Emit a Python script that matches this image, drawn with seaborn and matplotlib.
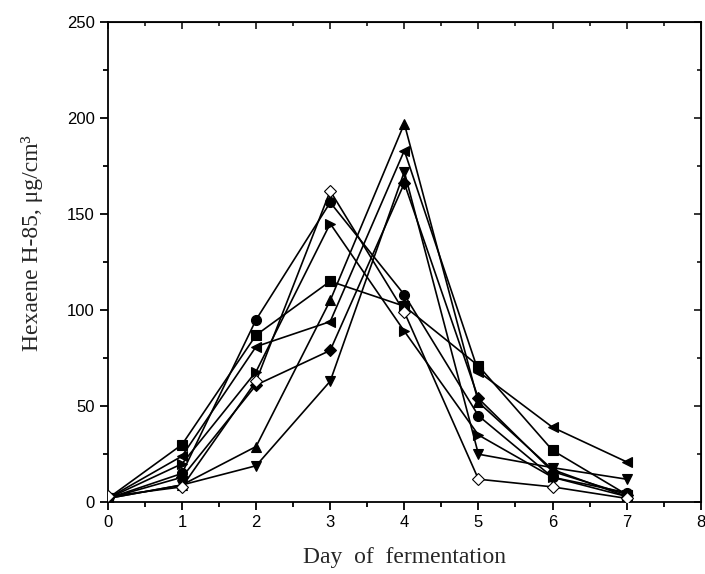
import pandas as pd
import matplotlib
matplotlib.use("Agg")
import matplotlib.pyplot as plt
from matplotlib.ticker import MultipleLocator
import seaborn as sns

# day of fermentation and hexaene content per sample
days = [0, 1, 2, 3, 4, 5, 6, 7]
s_square = [2, 30, 87, 115, 102, 71, 27, 4]
s_circle = [2, 15, 95, 156, 108, 45, 13, 5]
s_up = [2, 9, 29, 105, 197, 52, 17, 3]
s_down = [2, 9, 19, 63, 172, 25, 18, 12]
s_diamond = [2, 13, 61, 79, 166, 54, 16, 4]
s_left = [2, 24, 81, 94, 183, 68, 39, 21]
s_right = [2, 20, 68, 145, 89, 35, 13, 3]
s_open = [3, 8, 63, 162, 99, 12, 8, 2]

series = [
    ("s", s_square, "black"),
    ("o", s_circle, "black"),
    ("^", s_up, "black"),
    ("v", s_down, "black"),
    ("D", s_diamond, "black"),
    ("<", s_left, "black"),
    (">", s_right, "black"),
    ("D", s_open, "white"),
]

sns.set_style("ticks")
plt.rcParams['font.family'] = ['Liberation Sans', 'DejaVu Sans']

fig, ax = plt.subplots(figsize=(7.05, 5.74), dpi=100)
fig.subplots_adjust(left=0.153, right=0.994, top=0.962, bottom=0.125)

for mk, vals, fc in series:
    df = pd.DataFrame({"day": days, "val": vals})
    ms = 6.3 if mk == "D" else 7.2
    sns.lineplot(data=df, x="day", y="val", ax=ax, color="black", lw=1.2,
                 marker=mk, markersize=ms, markerfacecolor=fc,
                 markeredgecolor="black", markeredgewidth=0.8, zorder=3)

ax.set_xlim(0, 8)
ax.set_ylim(0, 250)
ax.xaxis.set_major_locator(MultipleLocator(1))
ax.xaxis.set_minor_locator(MultipleLocator(0.5))
ax.yaxis.set_major_locator(MultipleLocator(50))
ax.yaxis.set_minor_locator(MultipleLocator(25))

for sp in ax.spines.values():
    sp.set_visible(True)
    sp.set_linewidth(1.3)
    sp.set_color("black")

ax.tick_params(which="both", direction="out", top=False, right=False,
               labelsize=12, width=1.3, colors="black")
ax.tick_params(which="major", length=6)
ax.tick_params(which="minor", length=3.5)
ax2 = ax.secondary_xaxis("top")
ax2.xaxis.set_major_locator(MultipleLocator(1))
ax2.xaxis.set_minor_locator(MultipleLocator(0.5))
ax2.tick_params(which="both", direction="in", labeltop=False, width=1.3)
ax2.tick_params(which="major", length=5)
ax2.tick_params(which="minor", length=3)
ax3 = ax.secondary_yaxis("right")
ax3.yaxis.set_major_locator(MultipleLocator(50))
ax3.yaxis.set_minor_locator(MultipleLocator(25))
ax3.tick_params(which="both", direction="in", labelright=False, width=1.3)
ax3.tick_params(which="major", length=5)
ax3.tick_params(which="minor", length=3)

ax.set_xlabel("Day  of  fermentation", family="Liberation Serif", fontsize=17, labelpad=12)
ax.set_ylabel("Hexaene H-85, \u03bcg/cm\u00b3", family="Liberation Serif", fontsize=17)
ax.yaxis.set_label_coords(-0.11, 0.54)

fig.savefig("out.png", dpi=100)
